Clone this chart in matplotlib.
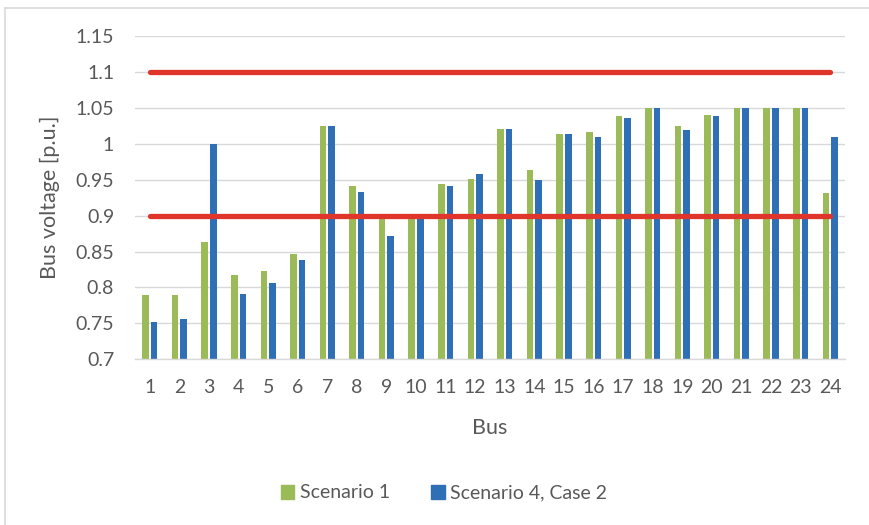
import matplotlib
matplotlib.use("Agg")
import matplotlib.pyplot as plt
import numpy as np
from matplotlib.lines import Line2D
from matplotlib.patches import Patch

buses = [str(i) for i in range(1, 25)]
scenario1 = [0.789, 0.789, 0.863, 0.817, 0.823, 0.847, 1.025, 0.941, 0.898, 0.899,
             0.944, 0.951, 1.020, 0.964, 1.014, 1.017, 1.039, 1.050, 1.025, 1.040,
             1.050, 1.050, 1.050, 0.932]
scenario4 = [0.752, 0.756, 1.000, 0.791, 0.806, 0.838, 1.025, 0.933, 0.871, 0.898,
             0.941, 0.958, 1.020, 0.950, 1.014, 1.010, 1.036, 1.050, 1.019, 1.038,
             1.050, 1.050, 1.050, 1.010]
upper_limit = 1.1
lower_limit = 0.9
yticks = [0.7, 0.75, 0.8, 0.85, 0.9, 0.95, 1.0, 1.05, 1.1, 1.15]
ytick_labels = ["0.7", "0.75", "0.8", "0.85", "0.9", "0.95", "1", "1.05", "1.1", "1.15"]

plt.rcParams['font.family'] = ['Lato', 'DejaVu Sans']
txt = '#595959'
green = '#9BBB59'
blue = '#2E6FB5'
red = '#E0352B'

fig = plt.figure(figsize=(8.69, 5.25), dpi=100)
ax = fig.add_axes([135/869, 1 - 359.3/525, 710/869, (359.3 - 36)/525])

x = np.arange(1, 25)
w = 0.225
off = 0.145
ax.bar(x - off, np.array(scenario1) - 0.7, w, bottom=0.7, color=green, zorder=2)
ax.bar(x + off, np.array(scenario4) - 0.7, w, bottom=0.7, color=blue, zorder=2)

ax.plot([1, 24], [upper_limit, upper_limit], color=red, lw=3.8, solid_capstyle='round', zorder=3)
ax.plot([1, 24], [lower_limit, lower_limit], color=red, lw=3.8, solid_capstyle='round', zorder=3)

ax.set_xlim(0.5, 24.5)
ax.set_ylim(0.7, 1.15)
ax.set_yticks(yticks)
ax.set_yticklabels(ytick_labels)
ax.set_xticks(x)
ax.set_xticklabels(buses)
ax.yaxis.grid(True, color='#D9D9D9', lw=1.0, zorder=0)
ax.set_axisbelow(True)
for s in ['top', 'right', 'left']:
    ax.spines[s].set_visible(False)
ax.spines['bottom'].set_color('#D9D9D9')
ax.spines['bottom'].set_linewidth(1.0)
ax.tick_params(axis='both', length=0, labelsize=14, colors=txt)
ax.tick_params(axis='y', pad=15)
ax.tick_params(axis='x', pad=14)

ax.set_ylabel('Bus voltage [p.u.]', fontsize=15.5, color=txt)
ax.yaxis.label.set_va('center')
ax.yaxis.set_label_coords(-0.12, 0.5)
ax.set_xlabel('Bus', fontsize=15.5, color=txt)
ax.xaxis.label.set_va('center')
ax.xaxis.set_label_coords(0.5, -0.2125)

handles = [Patch(color=green, label='Scenario 1'), Patch(color=blue, label='Scenario 4, Case 2')]
leg = fig.legend(handles=handles, loc='center', bbox_to_anchor=(444/869, 1 - 493/525), ncol=2,
                 frameon=False, fontsize=14, handlelength=0.7, handleheight=0.7,
                 handletextpad=0.3, columnspacing=2.1, labelcolor=txt)

# chart border (left and top)
fig.add_artist(Line2D([5/869, 5/869], [0, 1 - 8/525], color='#D9D9D9', lw=1.2))
fig.add_artist(Line2D([5/869, 1], [1 - 8/525, 1 - 8/525], color='#D9D9D9', lw=1.2))

fig.savefig('out.png', dpi=100)
